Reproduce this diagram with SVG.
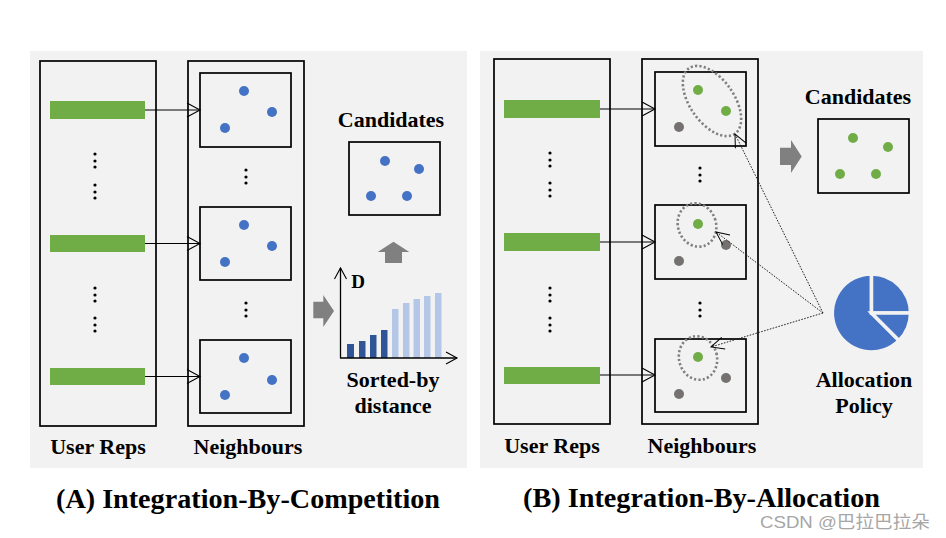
<svg xmlns="http://www.w3.org/2000/svg" width="946" height="538" viewBox="0 0 946 538">
<defs>
<marker id="chev" markerUnits="userSpaceOnUse" markerWidth="16" markerHeight="16" refX="13" refY="7" orient="auto" overflow="visible">
<path d="M0,0 L13,7 L0,14" fill="none" stroke="#000" stroke-width="1.1"/>
</marker>
<marker id="chevs" markerUnits="userSpaceOnUse" markerWidth="14" markerHeight="14" refX="11" refY="6" orient="auto" overflow="visible">
<path d="M0,0 L11,6 L0,12" fill="none" stroke="#000" stroke-width="1.1"/>
</marker>
<marker id="chevd" markerUnits="userSpaceOnUse" markerWidth="16" markerHeight="16" refX="13" refY="6" orient="auto" overflow="visible">
<path d="M0,0 L13,6 L0,12" fill="none" stroke="#000" stroke-width="1"/>
</marker>
</defs>
<style>
.bg{fill:#f2f2f2}
.box{fill:none;stroke:#000;stroke-width:1.7}
.bar{fill:#70ad47}
.blue{fill:#4472c4}
.grn{fill:#70ad47}
.gry{fill:#767171}
.dot{fill:#000}
.lbl{font-family:"Liberation Serif","Times New Roman",serif;font-weight:bold;font-size:22px;fill:#000;text-anchor:middle}
.ttl{font-family:"Liberation Serif","Times New Roman",serif;font-weight:bold;font-size:27px;fill:#000}
.arr{stroke:#000;stroke-width:1.1;fill:none;marker-end:url(#chev)}
.dash{stroke:#222;stroke-width:1;fill:none;stroke-dasharray:1.6 1.4;marker-end:url(#chevd)}
.blk{fill:#808080}
.ell{fill:none;stroke:#808080;stroke-width:2.6;stroke-dasharray:2.2 2.2}
.dk{fill:#2f5597}
.lt{fill:#b4c7e7}
.pie{fill:#4472c4;stroke:#f2f2f2;stroke-width:3.5;stroke-linejoin:miter}
</style>
<rect width="946" height="538" fill="#fff"/>
<rect class="bg" x="30" y="51" width="437" height="417"/>
<rect class="bg" x="480" y="51" width="443" height="417"/>

<!-- Panel A -->
<g id="a-userreps">
<rect class="box" x="40" y="61" width="116" height="365"/>
<rect class="bar" x="50" y="101" width="95" height="18"/>
<rect class="bar" x="50" y="235" width="95" height="17"/>
<rect class="bar" x="50" y="368" width="95" height="17"/>
<g class="dot">
<circle cx="95" cy="154" r="1.6"/><circle cx="95" cy="161" r="1.6"/><circle cx="95" cy="167" r="1.6"/>
<circle cx="95" cy="185" r="1.6"/><circle cx="95" cy="192" r="1.6"/><circle cx="95" cy="198" r="1.6"/>
<circle cx="95" cy="288" r="1.6"/><circle cx="95" cy="295" r="1.6"/><circle cx="95" cy="301" r="1.6"/>
<circle cx="95" cy="318" r="1.6"/><circle cx="95" cy="325" r="1.6"/><circle cx="95" cy="331" r="1.6"/>
</g>
<text class="lbl" x="98" y="454">User Reps</text>
</g>
<g id="a-neighbours">
<rect class="box" x="188" y="61" width="116" height="365"/>
<rect class="box" x="200" y="73" width="91" height="74"/>
<rect class="box" x="200" y="207" width="91" height="73"/>
<rect class="box" x="200" y="340" width="91" height="73"/>
<g class="blue">
<circle cx="244" cy="91" r="5"/><circle cx="272" cy="112" r="5"/><circle cx="225" cy="128" r="5"/>
<circle cx="244" cy="225" r="5"/><circle cx="272" cy="246" r="5"/><circle cx="225" cy="262" r="5"/>
<circle cx="244" cy="358" r="5"/><circle cx="272" cy="380" r="5"/><circle cx="225" cy="395" r="5"/>
</g>
<g class="dot">
<circle cx="246" cy="170" r="1.6"/><circle cx="246" cy="177" r="1.6"/><circle cx="246" cy="183" r="1.6"/>
<circle cx="246" cy="303" r="1.6"/><circle cx="246" cy="310" r="1.6"/><circle cx="246" cy="316" r="1.6"/>
</g>
<text class="lbl" x="248" y="454">Neighbours</text>
</g>
<g id="a-candidates">
<text class="lbl" x="391" y="127">Candidates</text>
<rect class="box" x="349" y="142" width="91" height="73"/>
<g class="blue">
<circle cx="385" cy="161" r="5"/><circle cx="419" cy="169" r="5"/><circle cx="371" cy="196" r="5"/><circle cx="407" cy="196" r="5"/>
</g>
</g>
<g id="a-chart">
<rect class="dk" x="347" y="344" width="7" height="14"/>
<rect class="dk" x="359" y="341" width="6.5" height="17"/>
<rect class="dk" x="370" y="335" width="6.5" height="23"/>
<rect class="dk" x="381" y="330" width="6.5" height="28"/>
<rect class="lt" x="392" y="309" width="6.5" height="49"/>
<rect class="lt" x="403" y="303" width="6.5" height="55"/>
<rect class="lt" x="413.5" y="299" width="6.5" height="59"/>
<rect class="lt" x="424" y="296" width="6.5" height="62"/>
<rect class="lt" x="435" y="293" width="6.5" height="65"/>
<path d="M340.5,358 L340.5,268" stroke="#000" stroke-width="1.3" fill="none" marker-end="url(#chevs)"/>
<path d="M340,358 L457,358" stroke="#000" stroke-width="1.3" fill="none" marker-end="url(#chevs)"/>
<text class="lbl" x="358" y="288" style="font-size:19px">D</text>
<text class="lbl" x="393" y="387">Sorted-by</text>
<text class="lbl" x="393" y="413">distance</text>
</g>

<!-- Panel B -->
<g id="b-userreps">
<rect class="box" x="494" y="59" width="116" height="365"/>
<rect class="bar" x="504" y="100" width="96" height="18"/>
<rect class="bar" x="504" y="233" width="96" height="18"/>
<rect class="bar" x="504" y="367" width="96" height="17"/>
<g class="dot">
<circle cx="550" cy="153" r="1.6"/><circle cx="550" cy="160" r="1.6"/><circle cx="550" cy="166" r="1.6"/>
<circle cx="550" cy="183" r="1.6"/><circle cx="550" cy="190" r="1.6"/><circle cx="550" cy="196" r="1.6"/>
<circle cx="550" cy="288" r="1.6"/><circle cx="550" cy="295" r="1.6"/><circle cx="550" cy="301" r="1.6"/>
<circle cx="550" cy="318" r="1.6"/><circle cx="550" cy="325" r="1.6"/><circle cx="550" cy="331" r="1.6"/>
</g>
<text class="lbl" x="552" y="453">User Reps</text>
</g>
<g id="b-neighbours">
<rect class="box" x="642" y="59" width="116" height="365"/>
<rect class="box" x="655" y="72" width="91" height="74"/>
<rect class="box" x="655" y="205" width="91" height="74"/>
<rect class="box" x="655" y="339" width="91" height="73"/>
<circle class="grn" cx="698" cy="90" r="5"/><circle class="grn" cx="726" cy="111" r="5"/><circle class="gry" cx="679" cy="127" r="5"/>
<circle class="grn" cx="698" cy="224" r="5"/><circle class="gry" cx="726" cy="245" r="5"/><circle class="gry" cx="679" cy="261" r="5"/>
<circle class="grn" cx="698" cy="357" r="5"/><circle class="gry" cx="726" cy="378" r="5"/><circle class="gry" cx="679" cy="394" r="5"/>
<ellipse class="ell" cx="712" cy="101" rx="40" ry="22" transform="rotate(55 712 101)"/>
<ellipse class="ell" cx="697" cy="225" rx="19" ry="22" transform="rotate(-20 697 225)"/>
<ellipse class="ell" cx="698" cy="358" rx="19" ry="22" transform="rotate(-15 698 358)"/>
<g class="dot">
<circle cx="700" cy="168" r="1.6"/><circle cx="700" cy="175" r="1.6"/><circle cx="700" cy="181" r="1.6"/>
<circle cx="700" cy="303" r="1.6"/><circle cx="700" cy="310" r="1.6"/><circle cx="700" cy="316" r="1.6"/>
</g>
<text class="lbl" x="702" y="453">Neighbours</text>
</g>
<g id="b-candidates">
<text class="lbl" x="858" y="104">Candidates</text>
<rect class="box" x="818" y="119" width="91" height="74"/>
<circle class="grn" cx="853" cy="138" r="5"/><circle class="grn" cx="888" cy="147" r="5"/><circle class="grn" cx="840" cy="174" r="5"/><circle class="grn" cx="876" cy="174" r="5"/>
</g>
<g id="b-policy">
<path class="pie" d="M871.5,313 L899,340.5 A39,39 0 1,1 871.5,274 Z"/>
<path class="pie" d="M871.5,313 L871.5,274 A39,39 0 0,1 910.5,313 Z"/>
<path class="pie" d="M871.5,313 L910.5,313 A39,39 0 0,1 899,340.5 Z"/>
<text class="lbl" x="864" y="387">Allocation</text>
<text class="lbl" x="864" y="413">Policy</text>
</g>

<g id="connectors">
<path class="arr" d="M145,110 L200,110"/>
<path class="arr" d="M145,243.5 L200,243.5"/>
<path class="arr" d="M145,376.5 L200,376.5"/>
<path class="arr" d="M600,109 L655,109"/>
<path class="arr" d="M600,242 L655,242"/>
<path class="arr" d="M600,375 L655,375"/>
<path class="dash" d="M823,313 L735,134"/>
<path class="dash" d="M823,313 L716,232"/>
<path class="dash" d="M823,313 L711,347"/>
<path class="blk" d="M313.3,301.7 L323.3,301.7 L323.3,295 L334,311 L323.3,327 L323.3,318.3 L313.3,318.3 Z"/>
<path class="blk" d="M385,263 L385,252 L377.7,252 L393.5,241.7 L409.3,252 L402,252 L402,263 Z"/>
<path class="blk" d="M780,147.7 L791,147.7 L791,140 L801.7,156.5 L791,173 L791,165 L780,165 Z"/>
</g>

<text class="ttl" x="56" y="508" textLength="384" lengthAdjust="spacingAndGlyphs">(A) Integration-By-Competition</text>
<text class="ttl" x="523" y="507" textLength="357" lengthAdjust="spacingAndGlyphs">(B) Integration-By-Allocation</text>
<text x="760" y="528" textLength="170" lengthAdjust="spacingAndGlyphs" style="font-family:'Liberation Sans','Noto Sans CJK SC',sans-serif;font-size:17px;fill:#a6a6a6">CSDN @巴拉巴拉朵</text>
</svg>
